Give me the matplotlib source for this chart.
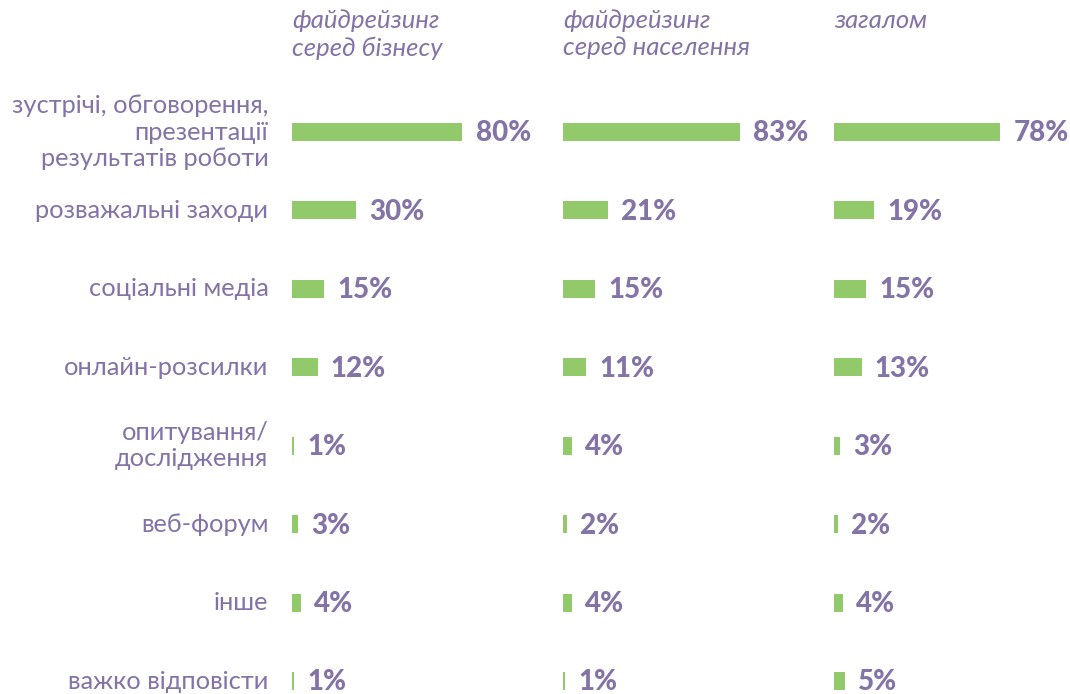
import matplotlib
matplotlib.use("Agg")
import matplotlib.pyplot as plt

categories = [
    "зустрічі, обговорення,\nпрезентації\nрезультатів роботи",
    "розважальні заходи",
    "соціальні медіа",
    "онлайн-розсилки",
    "опитування/\nдослідження",
    "веб-форум",
    "інше",
    "важко відповісти",
]
panel_titles = ["файдрейзинг\nсеред бізнесу", "файдрейзинг\nсеред населення", "загалом"]
business = [80, 30, 15, 12, 1, 3, 4, 1]
population = [83, 21, 15, 11, 4, 2, 4, 1]
overall = [78, 19, 15, 13, 3, 2, 4, 5]
series = [business, population, overall]

GREEN = "#92C96A"
PURPLE = "#8373A6"
FONT = ["Lato", "DejaVu Sans"]

W, H = 1070, 694
fig = plt.figure(figsize=(W / 100, H / 100), dpi=100)

row_px = 78.43
first_px = 132
top_px = first_px - row_px / 2
y_bottom = (H - first_px) / row_px
px_per_pct = 2.13
panel_left = [292, 563, 834]
panel_w = 236

axes = []
for k, (left, vals, title) in enumerate(zip(panel_left, series, panel_titles)):
    ax = fig.add_axes([left / W, 0, panel_w / W, (H - top_px) / H])
    ax.set_xlim(0, panel_w / px_per_pct)
    ax.set_ylim(y_bottom, -0.5)
    ypos = list(range(len(vals)))
    ax.barh(ypos, vals, height=18 / row_px, color=GREEN, left=0)
    for y, v in zip(ypos, vals):
        ax.annotate(f"{v}%", xy=(v, y), xytext=(9.5, -1), textcoords="offset points",
                    ha="left", va="center", fontsize=20, fontweight="black",
                    color=PURPLE, family=FONT)
    ax.axis("off")
    fig.text(left / W, 1 - 9 / H, title, ha="left", va="top", fontsize=18.5,
             style="italic", color=PURPLE, family=FONT, linespacing=1.22)
    axes.append(ax)

ax0 = axes[0]
for y, lab in enumerate(categories):
    ax0.annotate(lab, xy=(0, y), xytext=(-17, 0), textcoords="offset points",
                 ha="right", va="center", fontsize=18.3, color=PURPLE,
                 family=FONT, linespacing=1.17, multialignment="right",
                 annotation_clip=False)

fig.savefig("out.png", dpi=100, facecolor="white")
